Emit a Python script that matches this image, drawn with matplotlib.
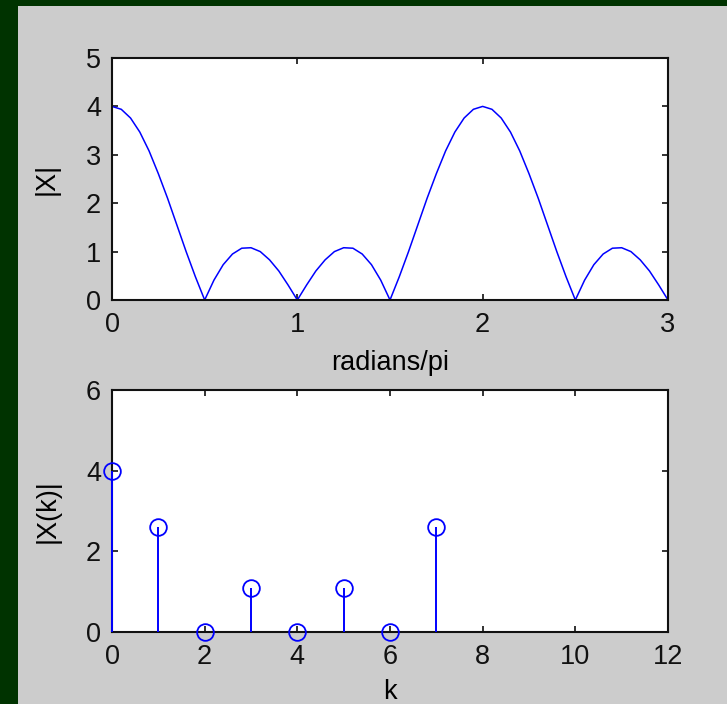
import numpy as np
import matplotlib
matplotlib.use('Agg')
import matplotlib.pyplot as plt
from matplotlib.patches import Rectangle

plt.rcParams['font.family'] = ['Liberation Sans', 'DejaVu Sans']

w = [i * 0.05 for i in range(61)]
X_mag = [4.00, 3.94, 3.76, 3.47, 3.08, 2.61, 2.10, 1.55, 1.00, 0.48,
         0.00, 0.41, 0.73, 0.95, 1.07, 1.08, 1.00, 0.83, 0.60, 0.31,
         0.00, 0.31, 0.60, 0.83, 1.00, 1.08, 1.07, 0.95, 0.73, 0.41,
         0.00, 0.48, 1.00, 1.55, 2.10, 2.61, 3.08, 3.47, 3.76, 3.94,
         4.00, 3.94, 3.76, 3.47, 3.08, 2.61, 2.10, 1.55, 1.00, 0.48,
         0.00, 0.41, 0.73, 0.95, 1.07, 1.08, 1.00, 0.83, 0.60, 0.31,
         0.00]

# |X(k)| stems in the bottom panel
k = [0, 1, 2, 3, 4, 5, 6, 7]
Xk = [4.00, 2.61, 0.00, 1.08, 0.00, 1.08, 0.00, 2.61]

fs = 19.5
fig = plt.figure(figsize=(7.27, 7.04), dpi=100)
fig.patch.set_facecolor('#003300')
fig.add_artist(Rectangle((18 / 727, 0), 1, 1 - 6 / 704, transform=fig.transFigure,
                         facecolor='#cccccc', edgecolor='none', zorder=0))

ax1 = fig.add_axes([112 / 727, 1 - 300 / 704, 556 / 727, 242 / 704])
ax2 = fig.add_axes([112 / 727, 1 - 632 / 704, 556 / 727, 242 / 704])

#%% top: DTFT magnitude
ax1.plot(w, X_mag, color='#0000ff', lw=1.1)
ax1.set_xlim(0, 3)
ax1.set_ylim(0, 5)
ax1.set_xticks([0, 1, 2, 3])
ax1.set_yticks([0, 1, 2, 3, 4, 5])
ax1.set_xlabel('radians/pi', fontsize=fs)
ax1.set_ylabel('|X|', fontsize=fs)
ax1.xaxis.set_label_coords(0.5, -0.205)
ax1.yaxis.set_label_coords(-0.094, 0.5)

#%% bottom: DFT samples
markers, stems, base = ax2.stem(k, Xk, linefmt='b-', markerfmt='bo', basefmt=' ')
plt.setp(stems, color='#0000ff', lw=1.4, zorder=4)
plt.setp(markers, color='#0000ff', markerfacecolor='none', markersize=12,
         markeredgewidth=1.3, clip_on=False, zorder=5)
stems.set_clip_on(False)
ax2.set_xlim(0, 12)
ax2.set_ylim(0, 6)
ax2.set_xticks([0, 2, 4, 6, 8, 10, 12])
ax2.set_yticks([0, 2, 4, 6])
ax2.set_xlabel('k', fontsize=fs)
ax2.set_ylabel('|X(k)|', fontsize=fs)
ax2.xaxis.set_label_coords(0.5, -0.195)
ax2.yaxis.set_label_coords(-0.092, 0.5)

for ax in (ax1, ax2):
    ax.set_facecolor('white')
    ax.tick_params(direction='in', length=4, width=1.2, top=True, right=True,
                   labelsize=fs, colors='#111111')
    ax.tick_params(axis='x', pad=9)
    ax.tick_params(axis='y', pad=8)
    for s in ax.spines.values():
        s.set_linewidth(1.5)
        s.set_color('#111111')

fig.savefig('out.png', dpi=100, facecolor=fig.get_facecolor())
